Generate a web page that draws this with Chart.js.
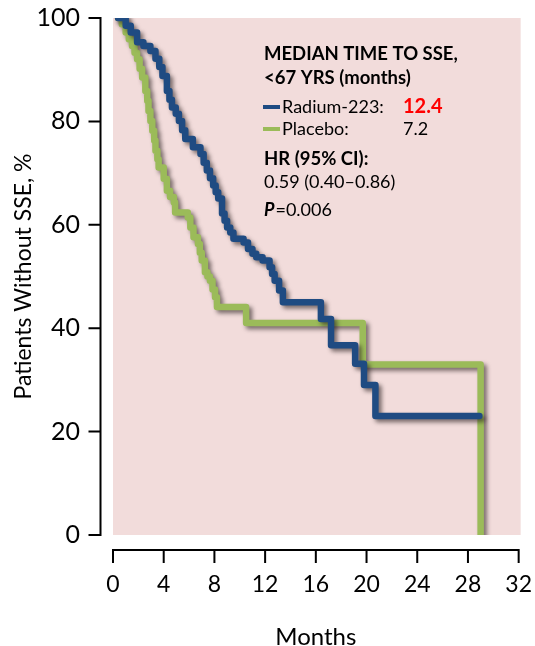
<!DOCTYPE html>
<html>
<head>
<meta charset="utf-8">
<script src="https://cdn.jsdelivr.net/npm/chart.js@4.4.1/dist/chart.umd.min.js"></script>
<style>
  html, body { margin: 0; padding: 0; background: #fff; }
  #wrap { width: 535px; height: 646px; }
</style>
</head>
<body>
<div id="wrap"><canvas id="sseChart" width="535" height="646"></canvas></div>
<script>
// time to first SSE, patients aged <67 yrs (Kaplan-Meier steps)
var radiumMonths = [0.4, 1.0, 1.4, 1.9, 2.4, 2.95, 3.35, 3.65, 3.9, 4.25, 4.45, 4.65, 4.95, 5.2, 5.45, 5.7, 6.3, 6.9, 7.15, 7.4, 7.65, 7.9, 8.1, 8.3, 8.6, 8.8, 9.0, 9.25, 9.5, 10.3, 10.65, 11.0, 11.3, 11.8, 12.35, 12.55, 12.75, 13.1, 13.4, 16.4, 17.2, 19.1, 19.8, 20.7, 28.9];
var radiumPct = [100, 98.5, 97.2, 95.3, 94.6, 93.6, 92.1, 90.5, 88.8, 85.9, 84.2, 82.7, 81.5, 80.1, 78.3, 76.6, 75.0, 73.7, 72.0, 70.5, 69.0, 67.6, 66.3, 65.1, 62.2, 60.8, 59.5, 58.5, 57.3, 56.6, 55.3, 54.4, 53.7, 53.1, 51.8, 50.5, 49.2, 47.3, 45.0, 41.8, 36.7, 33.1, 29.0, 23.0, 23.0];

var placeboMonths = [0.4, 0.7, 1.0, 1.25, 1.5, 1.7, 1.9, 2.1, 2.3, 2.55, 2.7, 2.8, 2.95, 3.1, 3.25, 3.35, 3.5, 3.6, 4.0, 4.25, 4.5, 4.8, 4.9, 5.9, 6.1, 6.35, 6.7, 6.85, 7.0, 7.25, 7.45, 7.65, 7.85, 8.05, 8.2, 10.5, 19.7, 29.0];
var placeboPct = [100, 98.8, 97.2, 95.9, 94.6, 93.3, 92.0, 90.2, 88.5, 85.9, 84.0, 82.0, 80.1, 78.2, 76.3, 74.3, 72.7, 71.1, 68.9, 66.6, 65.4, 64.3, 62.4, 61.4, 59.5, 57.6, 56.3, 54.6, 53.1, 50.8, 50.0, 49.2, 47.5, 46.0, 44.1, 41.0, 33.0, 0];

var monthTicks = [0, 4, 8, 12, 16, 20, 24, 28, 32];
var pctTicks = [0, 20, 40, 60, 80, 100];

var seriesNames = ['Radium-223', 'Placebo'];
var seriesColors = ['#1f4b82', '#9bbb59'];
var medianLabels = ['12.4', '7.2'];
var boxTitle = ['MEDIAN TIME TO SSE,', '<67 YRS (months)'];
var hrTitle = 'HR (95% CI):';
var hrValue = '0.59 (0.40\u20130.86)';
var pValue = '=0.006';

function toPoints(xs, ys)
{
	var pts = [];
	for (var i = 0; i < xs.length; i++) {
		pts.push({x: xs[i], y: ys[i]});
	}
	return pts;
}

var FONT = 'Lato, "Open Sans", sans-serif';

// pink panel behind the curves
var panelPlugin = {
	id: 'panel',
	beforeDraw: function(chart) {
		var a = chart.chartArea, ctx = chart.ctx;
		ctx.save();
		ctx.fillStyle = '#f2dcdb';
		ctx.fillRect(a.left, a.top, a.right - a.left + 2, a.bottom - a.top);
		ctx.restore();
	}
};

// soft drop shadow under the step lines
var shadowPlugin = {
	id: 'lineShadow',
	beforeDatasetsDraw: function(chart) {
		var ctx = chart.ctx;
		ctx.save();
		ctx.shadowColor = 'rgba(40, 30, 30, 0.6)';
		ctx.shadowBlur = 4;
		ctx.shadowOffsetX = 3;
		ctx.shadowOffsetY = 3;
	},
	afterDatasetsDraw: function(chart) {
		chart.ctx.restore();
	}
};

// detached axis lines with outward ticks
var axesPlugin = {
	id: 'offsetAxes',
	afterDraw: function(chart) {
		var ctx = chart.ctx, a = chart.chartArea;
		var xs = chart.scales.x, ys = chart.scales.y;
		var ax = a.left - 12.5, ay = a.bottom + 15;
		ctx.save();
		ctx.strokeStyle = '#000';
		ctx.lineWidth = 2;
		ctx.lineCap = 'butt';
		ctx.beginPath();
		ctx.moveTo(ax, ys.getPixelForValue(pctTicks[pctTicks.length - 1]) - 1);
		ctx.lineTo(ax, ys.getPixelForValue(pctTicks[0]) + 1);
		pctTicks.forEach(function(v) {
			var py = ys.getPixelForValue(v);
			ctx.moveTo(ax + 1, py);
			ctx.lineTo(ax - 12, py);
		});
		ctx.moveTo(xs.getPixelForValue(monthTicks[0]) - 1, ay);
		ctx.lineTo(xs.getPixelForValue(monthTicks[monthTicks.length - 1]) + 1, ay);
		monthTicks.forEach(function(v) {
			var px = xs.getPixelForValue(v);
			ctx.moveTo(px, ay - 1);
			ctx.lineTo(px, ay + 13);
		});
		ctx.stroke();
		ctx.restore();
	}
};

// median / HR text block inside the panel
var notePlugin = {
	id: 'medianNote',
	afterDraw: function(chart) {
		var ctx = chart.ctx, a = chart.chartArea;
		var x0 = a.left + 151;
		ctx.save();
		ctx.fillStyle = '#000';
		ctx.textBaseline = 'alphabetic';
		ctx.textAlign = 'left';
		ctx.font = 'bold 18.5px ' + FONT;
		ctx.fillText(boxTitle[0], x0, a.top + 42);
		ctx.fillText(boxTitle[1], x0, a.top + 66);

		var rows = [a.top + 95, a.top + 117];
		for (var i = 0; i < 2; i++) {
			ctx.fillStyle = seriesColors[i];
			ctx.fillRect(x0 - 1, rows[i] - 8, 17, 4);
			ctx.fillStyle = '#000';
			ctx.font = '18px ' + FONT;
			ctx.fillText(seriesNames[i] + ':', x0 + 18, rows[i]);
			if (i === 0) {
				ctx.fillStyle = '#ff0000';
				ctx.font = 'bold 20px ' + FONT;
			}
			ctx.fillText(medianLabels[i], x0 + 139, rows[i]);
		}

		ctx.fillStyle = '#000';
		ctx.font = 'bold 18.5px ' + FONT;
		ctx.fillText(hrTitle, x0, a.top + 147);
		ctx.font = '18px ' + FONT;
		ctx.fillText(hrValue, x0, a.top + 170);
		ctx.font = 'italic bold 18px ' + FONT;
		ctx.fillText('P', x0, a.top + 198);
		var pw = ctx.measureText('P').width;
		ctx.font = '18px ' + FONT;
		ctx.fillText(pValue, x0 + pw + 1, a.top + 198);
		ctx.restore();
	}
};

// tick marks stay invisible; their length only pushes the labels out
var hiddenTickGrid = {
	display: true,
	drawOnChartArea: false,
	drawTicks: true,
	color: 'rgba(0,0,0,0)'
};

function createStepChart(canvasElement)
{
	var createdChart = new Chart(canvasElement, {
		type: 'line',
		data: {
			datasets: [{
				label: seriesNames[0],
				data: toPoints(radiumMonths, radiumPct),
				borderColor: seriesColors[0],
				borderWidth: 6.5,
				stepped: 'before',
				borderJoinStyle: 'round',
				borderCapStyle: 'round',
				pointRadius: 0,
				fill: false
			}, {
				label: seriesNames[1],
				data: toPoints(placeboMonths, placeboPct),
				borderColor: seriesColors[1],
				borderWidth: 6.5,
				stepped: 'before',
				borderJoinStyle: 'round',
				borderCapStyle: 'round',
				pointRadius: 0,
				fill: false
			}]
		},
		options: {
			responsive: false,
			maintainAspectRatio: false,
			animation: false,
			layout: { padding: { top: 17, right: 14, left: 0, bottom: 0 } },
			plugins: {
				legend: { display: false },
				tooltip: { enabled: false }
			},
			scales: {
				x: {
					type: 'linear',
					min: 0,
					max: 32,
					afterBuildTicks: function(scale) {
						scale.ticks = monthTicks.map(function(v) { return {value: v}; });
					},
					afterFit: function(scale) { scale.height = 111; },
					grid: Object.assign({ tickLength: 33 }, hiddenTickGrid),
					border: { display: false },
					ticks: {
						padding: 3,
						color: '#000',
						maxRotation: 0,
						autoSkip: false,
						font: { family: FONT, size: 23 }
					},
					title: {
						display: true,
						text: 'Months',
						color: '#000',
						padding: { top: 0, bottom: -3 },
						font: { family: FONT, size: 24, lineHeight: 1 }
					}
				},
				y: {
					type: 'linear',
					min: 0,
					max: 100,
					afterBuildTicks: function(scale) {
						scale.ticks = pctTicks.map(function(v) { return {value: v}; });
					},
					afterFit: function(scale) { scale.width = 113; },
					grid: Object.assign({ tickLength: 30 }, hiddenTickGrid),
					border: { display: false },
					ticks: {
						padding: 3,
						color: '#000',
						autoSkip: false,
						font: { family: FONT, size: 25 }
					},
					title: {
						display: true,
						text: 'Patients Without SSE, %',
						color: '#000',
						padding: { top: 10, bottom: 0 },
						font: { family: FONT, size: 23 }
					}
				}
			}
		},
		plugins: [panelPlugin, shadowPlugin, axesPlugin, notePlugin]
	});
	return createdChart;
}

createStepChart(document.getElementById('sseChart'));
</script>
</body>
</html>
